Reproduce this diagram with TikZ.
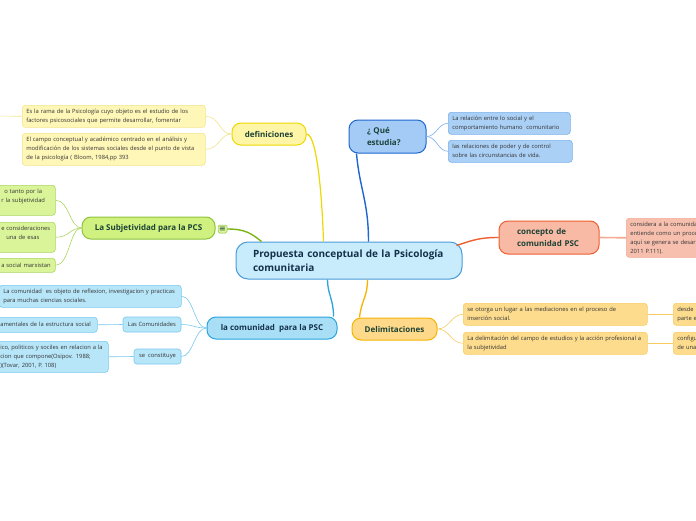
\documentclass[tikz,border=0pt]{standalone}
\usepackage{fontspec}
\setmainfont{Open Sans}
\newfontfamily\dejavu{DejaVu Sans}
\usetikzlibrary{calc}
\definecolor{cenfill}{HTML}{C8ECFC}\definecolor{cenline}{HTML}{4B9BD8}
\definecolor{yfill}{HTML}{FFF5A6}\definecolor{yline}{HTML}{EDD800}
\definecolor{ylfill}{HTML}{FFF7B8}\definecolor{ylline}{HTML}{F3E58A}
\definecolor{gfill}{HTML}{D0F080}\definecolor{gline}{HTML}{8CC43C}
\definecolor{glfill}{HTML}{DAF49A}\definecolor{glline}{HTML}{ACD65E}
\definecolor{bfill}{HTML}{A9DFF6}\definecolor{bline}{HTML}{2AA3DE}
\definecolor{blfill}{HTML}{B8E6F9}\definecolor{blline}{HTML}{79C9EE}
\definecolor{qfill}{HTML}{A3CBF5}\definecolor{qline}{HTML}{1F66D0}
\definecolor{qlfill}{HTML}{ABD0F6}\definecolor{qlline}{HTML}{7AB0EC}
\definecolor{rfill}{HTML}{F8B9A5}\definecolor{rline}{HTML}{EF5F30}
\definecolor{rlfill}{HTML}{F7C0AE}\definecolor{rlline}{HTML}{F4AA92}
\definecolor{ofill}{HTML}{FED98A}\definecolor{oline}{HTML}{F5B400}
\definecolor{olfill}{HTML}{FDDC8E}\definecolor{olline}{HTML}{F8CC62}
\definecolor{ttl}{HTML}{1B4236}\definecolor{ttlb}{HTML}{14304A}
\definecolor{leaftxt}{HTML}{333333}
\definecolor{gconn}{HTML}{7CB518}
\newcommand\Lmb[1]{\mbox{#1}}
\newcommand\leaffont{\fontsize{5.8}{9}\selectfont}
\newcommand\ttlfont{\fontsize{8}{11.5}\selectfont\bfseries}
\newcommand\cenfont{\fontsize{10}{14}\selectfont\bfseries}
\begin{document}
\begin{tikzpicture}[x=1pt,y=-1pt,
  pill/.style={draw, line width=1pt, rounded corners=9pt, inner sep=0pt, align=left, font=\ttlfont, text=ttl},
  lpill/.style={pill, inner xsep=18pt},
  leaf/.style={draw, line width=0.6pt, rounded corners=3pt, inner xsep=4pt, inner ysep=0pt, align=left, font=\leaffont, text=leaftxt, anchor=north west},
  midleaf/.style={draw, line width=0.6pt, rounded corners=3pt, inner sep=0pt, font=\leaffont, text=leaftxt},
  sub/.style={line width=0.6pt},
  mainc/.style={line width=1.4pt}]
\useasboundingbox (0,0) rectangle (696,520);
\clip (0,0) rectangle (696,520);
\fill[white] (0,0) rectangle (696,520);

% central
\node[pill, rounded corners=12pt, inner xsep=17pt, fill=cenfill, draw=cenline, font=\cenfont, text=ttlb, text width=192, minimum height=37] (cen) at (349,260.5) {\Lmb{Propuesta conceptual de la Psicología}\\\Lmb{comunitaria}};

% main topics
\node[pill, fill=yfill, draw=yline, minimum width=74, minimum height=22] (def) at (269,134) {definiciones};
\node[pill, fill=gfill, draw=gline, minimum width=133, minimum height=22] (subj) at (148.5,228) {La Subjetividad para la PCS};
\node[draw=gline, fill=glfill, line width=0.5pt, rounded corners=1.5pt, inner sep=0pt, minimum width=9, minimum height=8, text=ttl] (icon) at (222.5,229) {\dejavu\fontsize{8}{8}\selectfont ≡};
\node[pill, fill=bfill, draw=bline, text=ttlb, minimum width=130, minimum height=22] (com) at (272,328) {la comunidad\ \ para la PSC};
\node[lpill, fill=qfill, draw=qline, text width=41, minimum height=33] (que) at (387.5,136.5) {\Lmb{¿ Qué}\\\Lmb{estudia?}};
\node[lpill, fill=rfill, draw=rline, text width=64, minimum height=33] (conc) at (549,237.5) {\Lmb{concepto de}\\\Lmb{comunidad PSC}};
\node[pill, fill=ofill, draw=oline, minimum width=85, minimum height=22] (delim) at (394.5,329) {Delimitaciones};

% definiciones leaves
\node[leaf, fill=ylfill, draw=ylline, text width=175, minimum height=22] (def1) at (22,105) {\Lmb{Es la rama de la Psicología cuyo objeto es el estudio de los}\\\Lmb{factores psicosociales que permite desarrollar, fomentar}};
\node[leaf, fill=ylfill, draw=ylline, text width=175, minimum height=32] (def2) at (22,133) {\Lmb{El campo conceptual y académico centrado en el análisis y}\\\Lmb{modificación de los sistemas sociales desde el punto de vista}\\\Lmb{de la psicología ( Bloom, 1984,pp 393}};
\coordinate (d1tail) at (-5,116);

% subjetividad leaves
\node[leaf, fill=glfill, draw=glline, text width=50, minimum height=30] (sA) at (-3,185) {\Lmb{\hspace*{3pt}o tanto por la}\\\Lmb{r la subjetividad}\\\mbox{}};
\node[leaf, fill=glfill, draw=glline, text width=50, minimum height=30] (sB) at (-3,222) {\Lmb{e consideraciones}\\\Lmb{\hspace*{5pt}una de esas}\\\mbox{}};
\node[leaf, fill=glfill, draw=glline, text width=50, minimum height=14] (sC) at (-3,258) {\Lmb{a social marxistan}};

% comunidad leaves
\node[leaf, fill=blfill, draw=blline, text width=174, minimum height=22] (c1) at (-1,285) {\Lmb{La comunidad\ \ es objeto de reflexion, investigacion y practicas}\\\Lmb{para muchas ciencias sociales.}};
\node[midleaf, fill=blfill, draw=blline, minimum width=58, minimum height=15] (c2) at (152,324.5) {Las Comunidades};
\node[leaf, fill=blfill, draw=blline, text width=93, minimum height=15] (c2a) at (-4,317) {\Lmb{amentales de la estructura social}};
\node[midleaf, fill=blfill, draw=blline, minimum width=47, minimum height=15] (c3) at (157.5,356.5) {se\ \ constituye};
\node[leaf, fill=blfill, draw=blline, text width=104, minimum height=31] (c3a) at (-4,341) {\Lmb{ico, politicos y sociles en relacion a la}\\\Lmb{cion que compone(Osipov. 1988;}\\\Lmb{)(Tovar, 2001, P. 108)}};

% que estudia leaves
\node[leaf, fill=qlfill, draw=qlline, text width=114, minimum height=22] (q1) at (448,112) {\Lmb{La relación entre lo social y el}\\\Lmb{comportamiento humano\ \ comunitario}};
\node[leaf, fill=qlfill, draw=qlline, text width=116, minimum height=22] (q2) at (448,140) {\Lmb{las relaciones de poder y de control}\\\Lmb{sobre las circunstancias de vida.}};

% concepto leaf
\node[leaf, fill=rlfill, draw=rlline, text width=100, minimum height=39] (cc1) at (626,218) {\Lmb{considera a la comunidad}\\\Lmb{entiende como un proce}\\\Lmb{aquí se genera se desar}\\\Lmb{2011 P.111).}};

% delimitaciones leaves
\node[leaf, fill=olfill, draw=olline, text width=176, minimum height=22] (d1) at (463,303) {\Lmb{se otorga un lugar a las mediaciones en el proceso de}\\\Lmb{inserción social.}};
\node[leaf, fill=olfill, draw=olline, text width=176, minimum height=22] (d2) at (463,332) {\Lmb{La delimitación del campo de estudios y la acción profesional a}\\\Lmb{la subjetividad}};
\node[leaf, fill=olfill, draw=olline, text width=60, minimum height=22] (d1a) at (673,303) {\Lmb{desde}\\\Lmb{parte e}};
\node[leaf, fill=olfill, draw=olline, text width=60, minimum height=22] (d2a) at (673,332) {\Lmb{configu}\\\Lmb{de una}};

% main connectors
\draw[mainc, yline, line width=1.2pt] (def.east) .. controls +(9,0) and +(-2,-60) .. ($(cen.north west)+(88,0)$);
\draw[mainc, qline] ($(que.south west)+(8,0)$) .. controls +(3,35) and +(0,-40) .. ($(cen.north west)+(133,0)$);
\draw[mainc, gconn] (icon.east) .. controls +(18,0) and +(-10,-8) .. ($(cen.north west)+(26,0)$);
\draw[mainc, bline, line width=1.3pt] ($(cen.south west)+(92,0)$) .. controls +(0,15) and +(0,-18) .. ($(com.north east)+(-4,0)$);
\draw[mainc, oline, line width=1.3pt] ($(cen.south west)+(132,0)$) .. controls +(0,18) and +(2,-18) .. ($(delim.north west)+(8,0)$);
\draw[mainc, rline] ($(cen.north east)+(-6,4)$) .. controls +(18,-6) and +(-18,0) .. (conc.west);

% sub connectors
\foreach \c in {def1,def2} \draw[sub, ylline] (def.west) .. controls +(-12,0) and +(14,0) .. (\c.east);
\draw[sub, ylline] (def1.west) -- (d1tail);
\foreach \c in {sA,sB,sC} \draw[sub, glline] (subj.west) .. controls +(-12,0) and +(14,0) .. (\c.east);
\foreach \c in {c1,c2,c3} \draw[sub, blline] (com.west) .. controls +(-12,0) and +(12,0) .. (\c.east);
\draw[sub, blline] (c2.west) -- (c2a.east);
\draw[sub, blline] (c3.west) -- (c3a.east);
\foreach \c in {q1,q2} \draw[sub, qlline] (que.east) .. controls +(10,0) and +(-10,0) .. (\c.west);
\draw[rlline, line width=1.6pt] (conc.east) -- (cc1.west);
\foreach \c in {d1,d2} \draw[sub, olline] (delim.east) .. controls +(12,0) and +(-12,0) .. (\c.west);
\draw[sub, olline] (d1.east) -- (d1a.west);
\draw[sub, olline] (d2.east) -- (d2a.west);
\end{tikzpicture}
\end{document}
